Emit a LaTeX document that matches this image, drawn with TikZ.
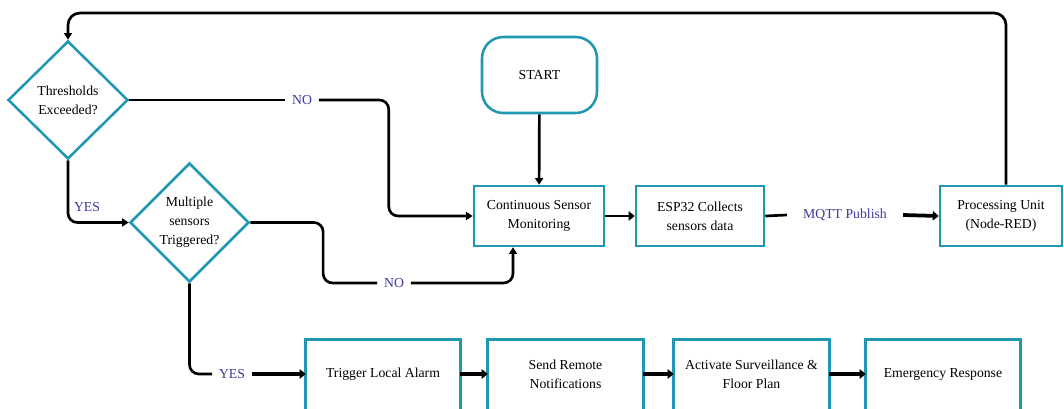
\documentclass[tikz,border=0pt]{standalone}
\usepackage{fontspec}
\setmainfont{Liberation Serif}
\usetikzlibrary{arrows.meta,shapes.geometric,calc}
\definecolor{tealb}{HTML}{2097B3}
\definecolor{lblblue}{HTML}{3A3A9E}
\newcommand\fsz{\fontsize{10.3pt}{14.25pt}\selectfont}
\begin{document}
\begin{tikzpicture}[x=0.75pt,y=-0.75pt,
  box/.style={draw=tealb, line width=1.9pt, align=center, font=\fsz, inner sep=0pt, minimum height=45pt},
  startbox/.style={draw=tealb, line width=1.9pt, rounded corners=16pt, align=center, font=\fsz, minimum width=86.25pt, minimum height=57pt},
  dia/.style={draw=tealb, line width=1.9pt, shape=diamond, align=center, font=\fsz, inner sep=0pt},
  lowbox/.style={align=center, font=\fsz, inner sep=0pt, minimum height=51pt},
  lowedge/.style={draw=tealb, line width=1.9pt},
  lbl/.style={text=lblblue, font=\fsz, inner xsep=5pt, inner ysep=1pt},
  conn/.style={draw=black, line width=2pt, rounded corners=7pt},
  arr/.style={conn, -{Triangle[length=5pt,width=6pt]}},
  thickarr/.style={draw=black, line width=2.8pt, -{Triangle[length=4.5pt,width=7pt]}}
]
\clip (0,0) rectangle (1064,409);
\fill[white] (0,0) rectangle (1064,409);

% top nodes
\node[startbox] (start) at (539.5,75) {START};
\node[box, minimum width=97.5pt] (csm) at (539,216) {Continuous Sensor\\Monitoring};
\node[box, minimum width=96pt] (esp) at (700,216) {ESP32 Collects\\sensors data};
\node[lbl, inner xsep=12pt] (mqtt) at (845,215) {MQTT Publish};
\node[box, minimum width=91.5pt] (proc) at (1001,216) {Processing Unit\\(Node-RED)};

% decisions
\node[dia, minimum width=90pt, minimum height=88.5pt] (d1) at (68,100) {Thresholds\\Exceeded?};
\node[dia, minimum width=89.25pt, minimum height=89.25pt] (d2) at (189.5,222.5) {Multiple\\sensors\\Triggered?};

% labels
\node[lbl] (no1) at (302,100) {NO};
\node[lbl] (no2) at (394,283) {NO};
\node[lbl] (yes1) at (87,207) {YES};
\node[lbl] (yes2) at (232,374) {YES};

% bottom row
\node[lowbox, minimum width=115.5pt] (tla) at (383,374) {Trigger Local Alarm};
\node[lowbox, minimum width=116.25pt] (srn) at (565.5,374) {Send Remote\\Notifications};
\node[lowbox, minimum width=116.25pt] (asf) at (751.5,374) {Activate Surveillance \&\\Floor Plan};
\node[lowbox, minimum width=115.5pt] (emr) at (943,374) {Emergency Response};
\foreach \n in {tla,srn,asf,emr}{
  \draw[lowedge] (\n.north west) rectangle ([yshift=-30pt]\n.south east);
}

% connectors
\draw[arr] (start) -- (csm);
\draw[thickarr, line width=2.2pt] (csm.east) -- (esp.west);
\draw[conn] (esp.east) -- (mqtt.west);
\draw[thickarr] (mqtt.east) -- (proc.west);

\coordinate (topc) at (68,13);
\draw[arr, rounded corners=9pt] ([xshift=3.75pt]proc.north) |- (topc) -- (d1.north);

\draw[conn] (d1.east) -- (no1.west);
\draw[arr] (no1.east) -| ($(csm.west)+(-84,0)$) -- (csm.west);

\draw[arr] (d1.south) |- (d2.west);

\draw[conn] (d2.east) -| ($(no2.west)+(-54,0)$) -- (no2.west);
\draw[arr] (no2.east) -| ([xshift=-19.5pt]csm.south);

\draw[conn] (d2.south) |- (yes2.west);
\draw[thickarr] (yes2.east) -- (tla.west);

\draw[thickarr] (tla.east) -- (srn.west);
\draw[thickarr] (srn.east) -- (asf.west);
\draw[thickarr] (asf.east) -- (emr.west);
\end{tikzpicture}
\end{document}
